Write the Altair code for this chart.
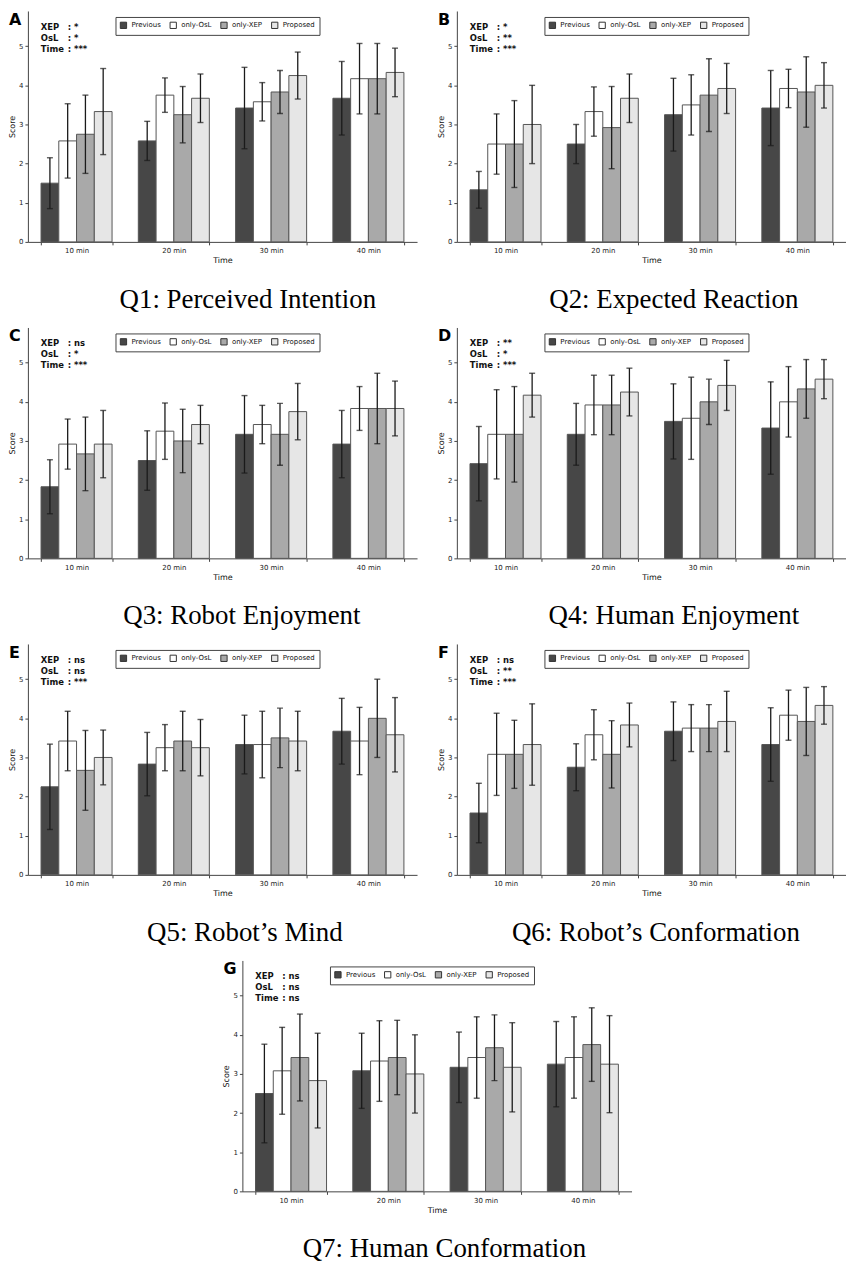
import altair as alt
import pandas as pd

# ---------------- data ----------------
times = ["10 min", "20 min", "30 min", "40 min"]
conditions = ["Previous", "only-OsL", "only-XEP", "Proposed"]
stat_names = ["XEP", "OsL", "Time"]

letters = ["A", "B", "C", "D", "E", "F", "G"]
captions = [
    "Q1: Perceived Intention",
    "Q2: Expected Reaction",
    "Q3: Robot Enjoyment",
    "Q4: Human Enjoyment",
    "Q5: Robot\u2019s Mind",
    "Q6: Robot\u2019s Conformation",
    "Q7: Human Conformation",
]
significance = [
    ["*", "*", "***"],
    ["*", "**", "***"],
    ["ns", "*", "***"],
    ["**", "*", "***"],
    ["ns", "ns", "***"],
    ["ns", "**", "***"],
    ["ns", "ns", "ns"],
]

# means per time (rows) x condition (columns)
q1_mean = [[1.50, 2.58, 2.75, 3.33], [2.58, 3.75, 3.25, 3.67], [3.42, 3.58, 3.83, 4.25], [3.67, 4.17, 4.17, 4.33]]
q1_sd = [[0.65, 0.95, 1.00, 1.10], [0.50, 0.44, 0.72, 0.62], [1.04, 0.49, 0.55, 0.60], [0.94, 0.90, 0.90, 0.62]]

q2_mean = [[1.33, 2.50, 2.50, 3.00], [2.50, 3.33, 2.92, 3.67], [3.25, 3.50, 3.75, 3.92], [3.42, 3.92, 3.83, 4.00]]
q2_sd = [[0.47, 0.77, 1.11, 1.00], [0.50, 0.63, 1.05, 0.62], [0.93, 0.77, 0.93, 0.64], [0.96, 0.49, 0.90, 0.58]]

q3_mean = [[1.83, 2.92, 2.67, 2.92], [2.50, 3.25, 3.00, 3.42], [3.17, 3.42, 3.17, 3.75], [2.92, 3.83, 3.83, 3.83]]
q3_sd = [[0.69, 0.64, 0.94, 0.86], [0.76, 0.72, 0.81, 0.49], [0.99, 0.49, 0.79, 0.72], [0.86, 0.56, 0.90, 0.70]]

q4_mean = [[2.42, 3.17, 3.17, 4.17], [3.17, 3.92, 3.92, 4.25], [3.50, 3.58, 4.00, 4.42], [3.33, 4.00, 4.33, 4.58]]
q4_sd = [[0.95, 1.14, 1.22, 0.56], [0.79, 0.76, 0.76, 0.61], [0.96, 1.05, 0.58, 0.64], [1.18, 0.90, 0.75, 0.50]]

q5_mean = [[2.25, 3.42, 2.67, 3.00], [2.83, 3.25, 3.42, 3.25], [3.33, 3.33, 3.50, 3.42], [3.67, 3.42, 4.00, 3.58]]
q5_sd = [[1.09, 0.76, 1.02, 0.70], [0.81, 0.59, 0.76, 0.72], [0.75, 0.85, 0.76, 0.76], [0.84, 0.86, 1.00, 0.95]]

q6_mean = [[1.58, 3.08, 3.08, 3.33], [2.75, 3.58, 3.08, 3.83], [3.67, 3.75, 3.75, 3.92], [3.33, 4.08, 3.92, 4.33]]
q6_sd = [[0.76, 1.05, 0.87, 1.04], [0.60, 0.64, 0.86, 0.56], [0.75, 0.60, 0.60, 0.77], [0.94, 0.64, 0.87, 0.48]]

q7_mean = [[2.50, 3.08, 3.42, 2.83], [3.08, 3.33, 3.42, 3.00], [3.17, 3.42, 3.67, 3.17], [3.25, 3.42, 3.75, 3.25]]
q7_sd = [[1.26, 1.11, 1.11, 1.21], [0.96, 1.03, 0.95, 1.00], [0.90, 1.04, 0.84, 1.14], [1.09, 1.04, 0.94, 1.24]]

all_means = [q1_mean, q2_mean, q3_mean, q4_mean, q5_mean, q6_mean, q7_mean]
all_sds = [q1_sd, q2_sd, q3_sd, q4_sd, q5_sd, q6_sd, q7_sd]

# ---------------- styles ----------------
fills = ["#474747", "#ffffff", "#a9a9a9", "#e6e6e6"]
W, H = 391, 232
YMAX = 5.9
caption_x = [221, 218, 215, 218, 218, 200, 203]
FONT = "DejaVu Sans"

yscale = alt.Scale(domain=[0, YMAX], nice=False, zero=True)


def panel(idx):
    means, sds, sig = all_means[idx], all_sds[idx], significance[idx]
    rows = []
    for ti, t in enumerate(times):
        for ci, c in enumerate(conditions):
            m = means[ti][ci]
            s = sds[ti][ci]
            rows.append({"time": t, "cond": c, "mean": m, "lo": m - s, "hi": m + s})
    df = pd.DataFrame(rows)

    base = alt.Chart(df).encode(
        x=alt.X(
            "time:N",
            sort=times,
            scale=alt.Scale(paddingInner=0.27, paddingOuter=0.135),
            axis=alt.Axis(
                title="Time", labelAngle=0, labelFontSize=7, titleFontSize=8,
                tickSize=3, labelPadding=2, titlePadding=3, tickBand="extent",
            ),
        ),
        xOffset=alt.XOffset("cond:N", sort=conditions,
                            scale=alt.Scale(paddingInner=0, paddingOuter=0)),
    )
    yaxis = alt.Axis(values=[0, 1, 2, 3, 4, 5], title="Score", titleFontSize=8,
                     labelFontSize=7, tickSize=3, labelPadding=2, titlePadding=2, grid=False)

    bars = base.mark_bar(stroke="#555555", strokeWidth=1).encode(
        y=alt.Y("mean:Q", scale=yscale, axis=yaxis, title="Score"),
        color=alt.Color(
            "cond:N", sort=conditions,
            scale=alt.Scale(domain=conditions, range=fills),
            legend=alt.Legend(
                orient="none", legendX=88, legendY=6, direction="horizontal", title=None,
                symbolType="square", symbolSize=40, symbolStrokeColor="#333333",
                symbolStrokeWidth=1, labelFont=FONT, labelFontSize=7, labelColor="#111111",
                labelOffset=4, columnPadding=6, padding=4, strokeColor="#444444",
                fillColor="white",
            ),
        ),
    )
    err = base.mark_rule(color="#1a1a1a", strokeWidth=1.3).encode(
        y=alt.Y("lo:Q", scale=yscale, title="Score"), y2="hi:Q"
    )
    cap_lo = base.mark_tick(color="#1a1a1a", size=6, thickness=1.4).encode(
        y=alt.Y("lo:Q", scale=yscale, title="Score")
    )
    cap_hi = base.mark_tick(color="#1a1a1a", size=6, thickness=1.4).encode(
        y=alt.Y("hi:Q", scale=yscale, title="Score")
    )

    layers = [bars, err, cap_lo, cap_hi]

    for i, (name, val) in enumerate(zip(stat_names, sig)):
        yy = 16 + 11 * i
        layers.append(
            alt.Chart(pd.DataFrame({"t": [name]})).mark_text(
                align="left", baseline="middle", font=FONT, fontSize=8.5,
                fontWeight="bold", color="#111111"
            ).encode(text="t:N", x=alt.value(13), y=alt.value(yy))
        )
        layers.append(
            alt.Chart(pd.DataFrame({"t": [": " + val]})).mark_text(
                align="left", baseline="middle", font=FONT, fontSize=8.5,
                fontWeight="bold", color="#111111"
            ).encode(text="t:N", x=alt.value(40), y=alt.value(yy))
        )

    layers.append(
        alt.Chart(pd.DataFrame({"t": [letters[idx]]})).mark_text(
            align="left", baseline="alphabetic", font=FONT, fontSize=16,
            fontWeight="bold", color="#000000"
        ).encode(text="t:N", x=alt.value(-19), y=alt.value(14))
    )
    layers.append(
        alt.Chart(pd.DataFrame({"t": [captions[idx]]})).mark_text(
            align="center", baseline="alphabetic", font="Liberation Serif", fontSize=27,
            color="#000000"
        ).encode(text="t:N", x=alt.value(caption_x[idx]), y=alt.value(H + 66))
    )

    return alt.layer(*layers).properties(width=W, height=H)


def row(a, b):
    return (
        alt.hconcat(a, b, spacing=20)
        .resolve_scale(color="independent")
        .resolve_legend(color="independent")
    )


panels = [panel(i) for i in range(7)]

chart = (
    alt.vconcat(
        row(panels[0], panels[1]),
        row(panels[2], panels[3]),
        row(panels[4], panels[5]),
        panels[6],
        spacing=15,
        center=True,
    )
    .resolve_scale(color="independent")
    .resolve_legend(color="independent")
    .properties(padding=0, background="white")
    .configure_view(stroke=None)
    .configure_axis(
        domainColor="#444444", tickColor="#444444", labelColor="#222222",
        titleColor="#111111", labelFont=FONT, titleFont=FONT, titleFontWeight="normal",
    )
)

chart.save("out.html", embed_options={"renderer": "svg", "actions": False})
